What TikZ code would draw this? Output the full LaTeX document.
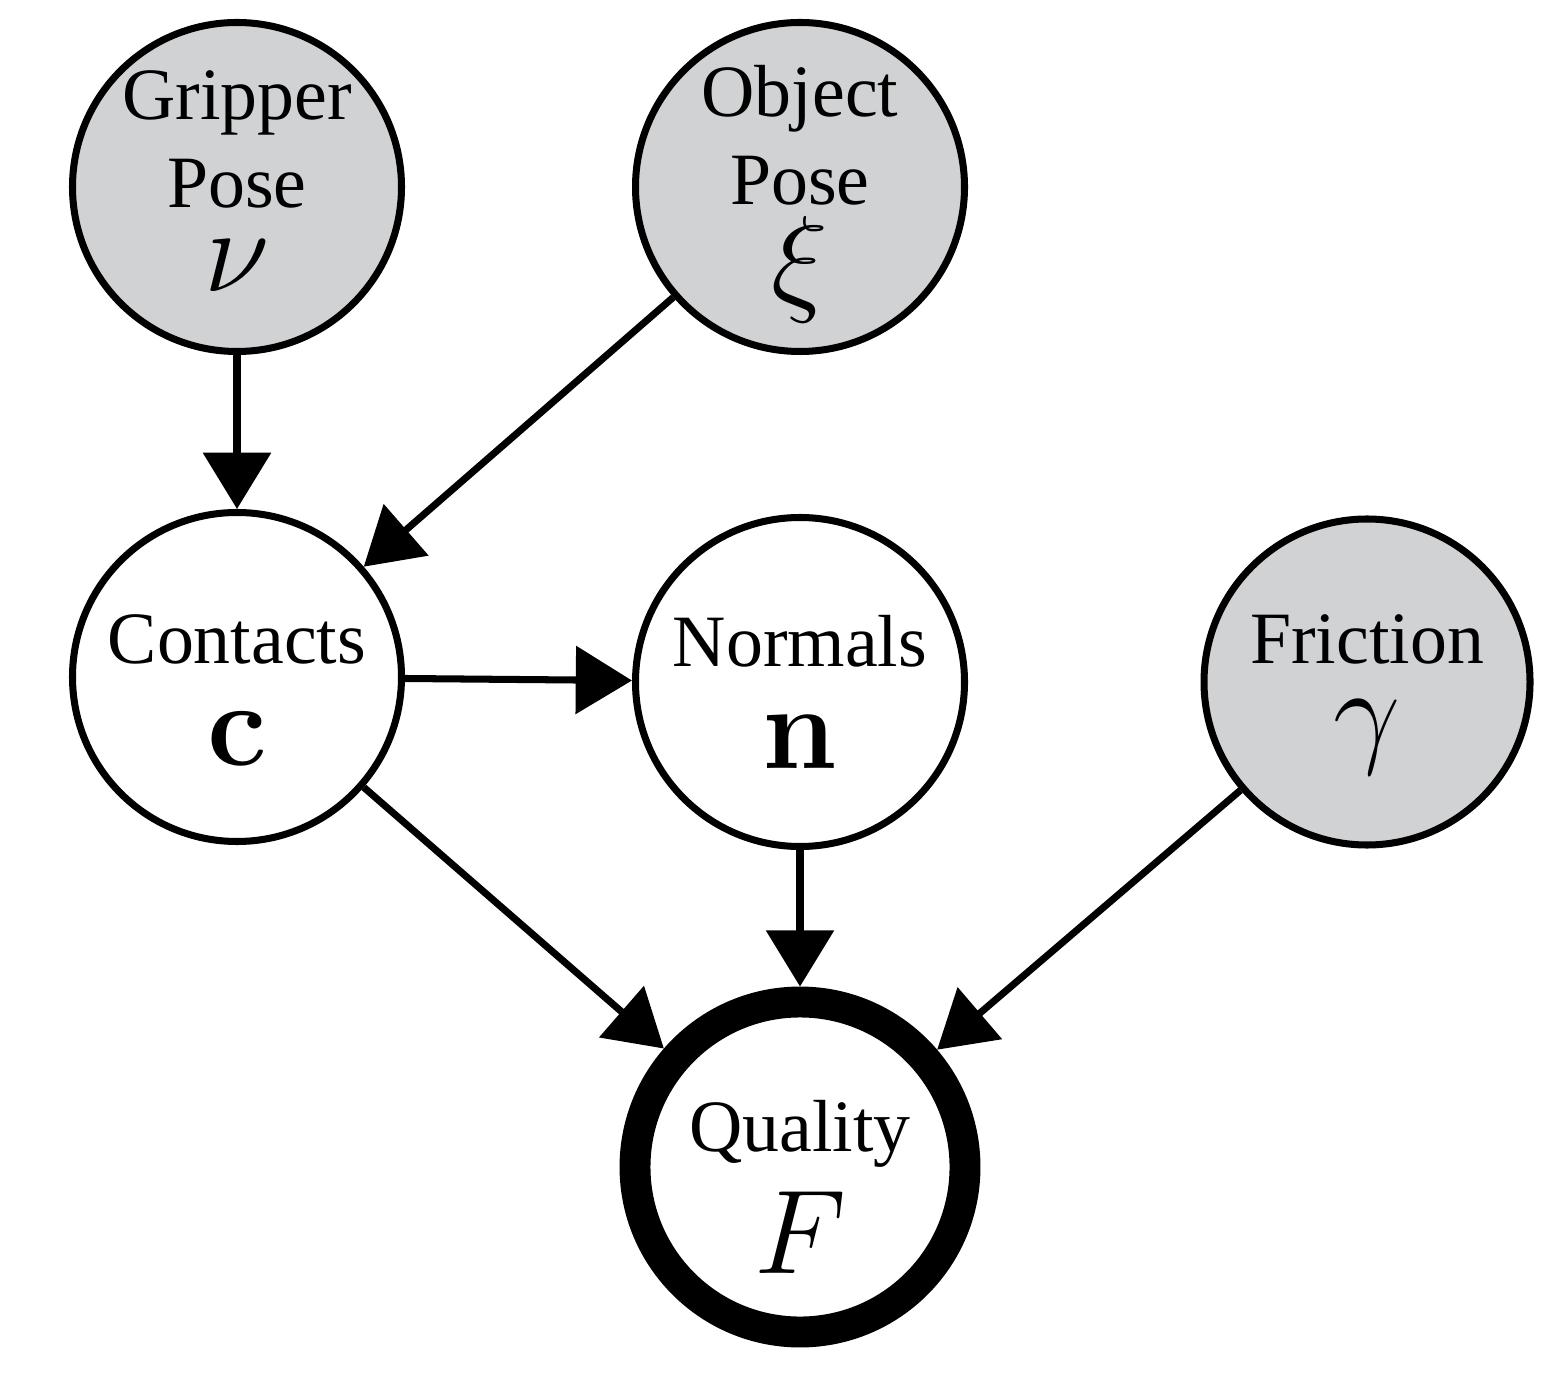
\RequirePackage{fix-cm}
\documentclass[tikz,border=0pt]{standalone}
\usepackage[no-math]{fontspec}
\setmainfont{Liberation Serif}
\usepackage{amsmath}
\usetikzlibrary{arrows.meta}
\definecolor{obsgray}{RGB}{209,210,212}
\newcommand{\varsym}[1]{{\fontsize{34}{25}\selectfont$#1$}}
\tikzstyle{var}=[draw, circle, line width=2pt, minimum size=3.29cm, inner sep=0pt]
\tikzstyle{obs}=[var, fill=obsgray]
\tikzstyle{qvar}=[var, line width=8.8pt, minimum size=3.3cm]
\tikzstyle{lbl}=[align=center, inner sep=0pt, font=\fontsize{21}{25}\selectfont]
\tikzstyle{edge}=[-{Triangle[length=16pt, width=19pt]}, line width=2pt]

\begin{document}
\begin{tikzpicture}
        \useasboundingbox (0, 0) rectangle (15.68, -13.75);
        % variables
        \node[obs] (gripper) at (2.37, -1.87) {};
        \node[obs] (object) at (8.00, -1.87) {};
        \node[var] (contacts) at (2.37, -6.77) {};
        \node[var] (normals) at (8.00, -6.82) {};
        \node[obs, minimum size=3.26cm] (friction) at (13.67, -6.82) {};
        \node[qvar] (quality) at (8.00, -11.67) {};
        % names and symbols
        \node[lbl, yshift=0.06cm] (gripper-t) at (gripper) {Gripper\\Pose\\[-1pt]\varsym{\nu}};
        \node[lbl, yshift=-0.07cm] (object-t) at (object) {Object\\Pose\\[2pt]\varsym{\xi}};
        \node[lbl, yshift=-0.13cm] (contacts-t) at (contacts) {Contacts\\[4pt]\varsym{\mathbf{c}}};
        \node[lbl, yshift=-0.10cm] (normals-t) at (normals) {Normals\\[4pt]\varsym{\mathbf{n}}};
        \node[lbl, yshift=-0.13cm] (friction-t) at (friction) {Friction\\\varsym{\gamma}};
        \node[lbl, yshift=-0.20cm] (quality-t) at (quality) {Quality\\[6pt]\varsym{F}};
        % dependencies
        \draw[edge] (gripper) -- (contacts);
        \draw[edge] (object) -- (contacts);
        \draw[edge] (contacts) -- (normals);
        \draw[edge] (contacts) -- (quality);
        \draw[edge] (normals) -- (quality);
        \draw[edge] (friction) -- (quality);
    \end{tikzpicture}
\end{document}
